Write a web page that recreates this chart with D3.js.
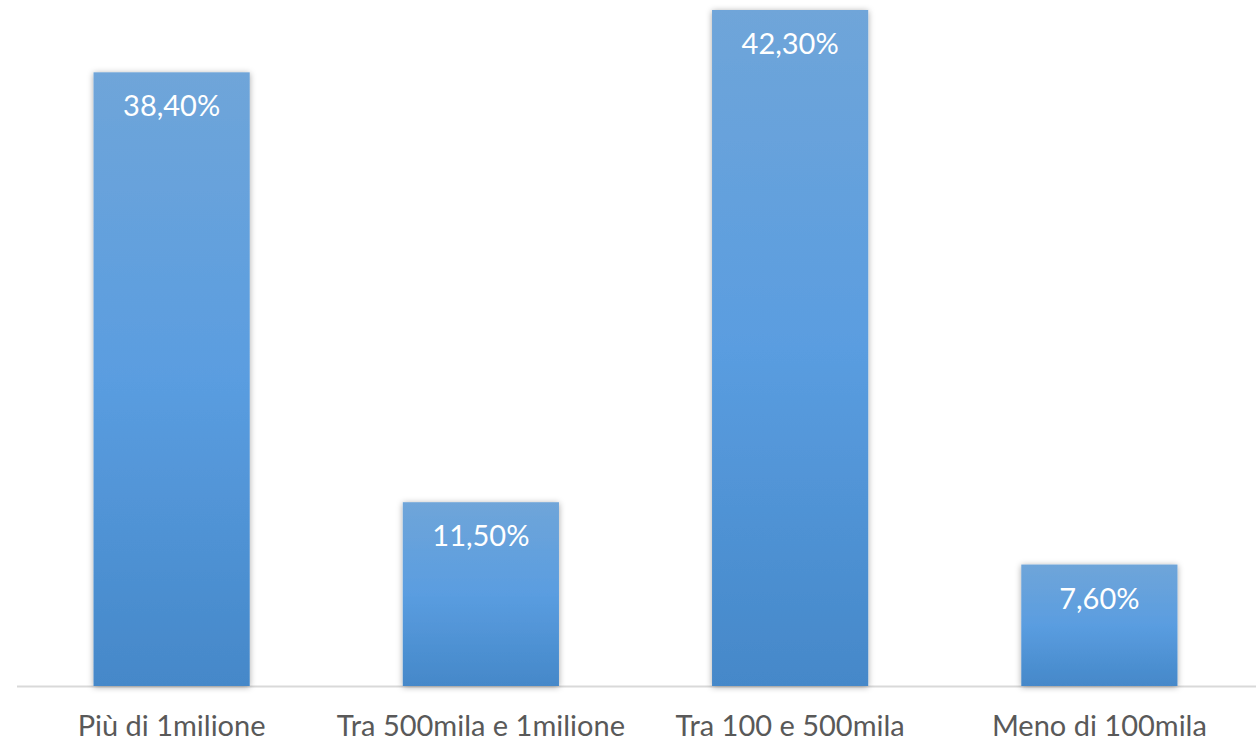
<!DOCTYPE html>
<html>
<head>
<meta charset="utf-8">
<script src="https://cdn.jsdelivr.net/npm/d3@7"></script>
<style>
  html, body { margin: 0; padding: 0; background: #ffffff; }
  svg { display: block; }
</style>
</head>
<body>
<svg id="chart" width="1256" height="742"></svg>
<script>
// Distribution by population size band
const categories = ["Più di 1milione", "Tra 500mila e 1milione", "Tra 100 e 500mila", "Meno di 100mila"];
const values = [38.4, 11.5, 42.3, 7.6];
const valueLabels = ["38,40%", "11,50%", "42,30%", "7,60%"];

const width = 1256, height = 742;
const baseline = 686;
const svg = d3.select("#chart");

const x = d3.scaleBand()
  .domain(categories)
  .range([17, 1254])
  .paddingInner(0.495)
  .paddingOuter(0.2475);

const y = d3.scaleLinear()
  .domain([0, 42.3])
  .range([baseline, 10]);

const defs = svg.append("defs");
const grad = defs.append("linearGradient")
  .attr("id", "barFill")
  .attr("x1", 0).attr("y1", 0).attr("x2", 0).attr("y2", 1);
grad.append("stop").attr("offset", "0%").attr("stop-color", "#6fa5d9");
grad.append("stop").attr("offset", "50%").attr("stop-color", "#5a9de0");
grad.append("stop").attr("offset", "100%").attr("stop-color", "#4588c9");

const shadow = defs.append("filter")
  .attr("id", "barShadow")
  .attr("x", "-20%").attr("y", "-20%").attr("width", "140%").attr("height", "140%");
shadow.append("feDropShadow")
  .attr("dx", 0).attr("dy", 1)
  .attr("stdDeviation", 3)
  .attr("flood-color", "#000")
  .attr("flood-opacity", 0.35);

// category axis line
svg.append("line")
  .attr("x1", 17).attr("x2", width)
  .attr("y1", baseline + 0.5).attr("y2", baseline + 0.5)
  .attr("stroke", "#d9d9d9")
  .attr("stroke-width", 2);

svg.append("g").selectAll("rect")
  .data(values)
  .join("rect")
  .attr("x", (d, i) => x(categories[i]))
  .attr("y", d => y(d))
  .attr("width", x.bandwidth())
  .attr("height", d => baseline - y(d))
  .attr("fill", "url(#barFill)")
  .attr("filter", "url(#barShadow)");

svg.append("g").selectAll("text")
  .data(values)
  .join("text")
  .attr("x", (d, i) => x(categories[i]) + x.bandwidth() / 2)
  .attr("y", d => y(d) + 44)
  .attr("text-anchor", "middle")
  .attr("fill", "#ffffff")
  .attr("font-family", "Lato, 'Open Sans', sans-serif")
  .attr("font-size", 29)
  .text((d, i) => valueLabels[i]);

svg.append("g").selectAll("text")
  .data(categories)
  .join("text")
  .attr("x", d => x(d) + x.bandwidth() / 2)
  .attr("y", 736)
  .attr("text-anchor", "middle")
  .attr("fill", "#595959")
  .attr("font-family", "Lato, 'Open Sans', sans-serif")
  .attr("font-size", 29)
  .text(d => d);
</script>
</body>
</html>
